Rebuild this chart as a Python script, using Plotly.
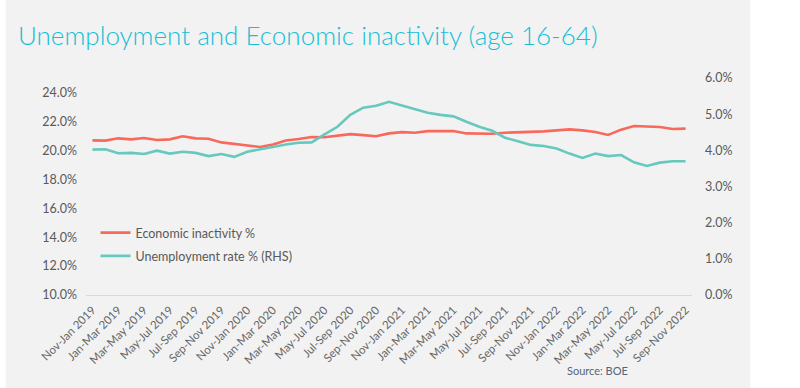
import plotly.graph_objects as go

months = ["Jan", "Feb", "Mar", "Apr", "May", "Jun", "Jul", "Aug", "Sep", "Oct", "Nov", "Dec"]
# rolling three-month periods, Nov-Jan 2019 ... Sep-Nov 2022
categories = []
yr = 2019
for k in range(47):
    start = (10 + k) % 12
    end = (start + 2) % 12
    if k > 0 and start == 10:
        yr += 1
    categories.append(f"{months[start]}-{months[end]} {yr}")

inactivity = [20.69, 20.67, 20.83, 20.76, 20.85, 20.71, 20.76, 20.97, 20.83, 20.80,
              20.55, 20.46, 20.37, 20.23, 20.41, 20.68, 20.78, 20.92, 20.90, 21.01,
              21.12, 21.05, 20.97, 21.17, 21.26, 21.22, 21.33, 21.33, 21.33, 21.17,
              21.15, 21.15, 21.22, 21.24, 21.31, 21.31, 21.38, 21.45, 21.38, 21.27,
              21.06, 21.43, 21.68, 21.63, 21.61, 21.47, 21.50]
unemployment = [4.02, 4.03, 3.92, 3.93, 3.90, 3.99, 3.91, 3.96, 3.93, 3.84,
                3.90, 3.82, 3.96, 4.03, 4.10, 4.16, 4.21, 4.22, 4.44, 4.65,
                4.98, 5.18, 5.23, 5.34, 5.24, 5.15, 5.04, 4.98, 4.94, 4.79,
                4.65, 4.54, 4.35, 4.25, 4.15, 4.12, 4.05, 3.91, 3.79, 3.91,
                3.84, 3.87, 3.67, 3.57, 3.66, 3.70, 3.70]

tick_labels = categories[::2]

FONT = "Lato"
TXT = "#595959"
W, H = 800, 388
L, R, T, B = 85.5, 692.5, 78, 295
pw, ph = R - L, B - T

def px(x):
    return (x - L) / pw

def py(y):
    return (B - y) / ph

fig = go.Figure()
fig.add_trace(go.Scatter(x=categories, y=inactivity, name="Economic inactivity %",
                         mode="lines", line=dict(color="#f8695c", width=2.6),
                         legendgroup="a"))
fig.add_trace(go.Scatter(x=categories, y=unemployment, name="Unemployment rate % (RHS)",
                         mode="lines", line=dict(color="#67c8bd", width=2.6),
                         yaxis="y2", legendgroup="b"))

fig.add_shape(type="rect", xref="paper", yref="paper", layer="below",
              x0=px(5), x1=px(751), y0=py(388), y1=py(0),
              fillcolor="#f2f2f2", line=dict(width=0))

fig.add_annotation(text="Unemployment and Economic inactivity (age 16-64)",
                   xref="paper", yref="paper", x=px(15), y=py(35),
                   xanchor="left", yanchor="middle", showarrow=False,
                   font=dict(family=FONT, size=26, color="#14bfd8", weight=300))
fig.add_annotation(text="Source: BOE", xref="paper", yref="paper",
                   x=px(598), y=py(370), xanchor="center", yanchor="middle",
                   showarrow=False, font=dict(family=FONT, size=11, color="#536577"))

fig.update_layout(
    width=W, height=H,
    margin=dict(l=L, r=W - R, t=T, b=H - B, pad=0, autoexpand=False),
    paper_bgcolor="white", plot_bgcolor="rgba(0,0,0,0)",
    font=dict(family=FONT, size=12, color=TXT),
    showlegend=True,
    legend=dict(x=px(95), y=py(218), xanchor="left", yanchor="top",
                bgcolor="rgba(0,0,0,0)", font=dict(family=FONT, size=12.5, color=TXT),
                itemwidth=30, traceorder="grouped", tracegroupgap=4),
    xaxis=dict(type="category", range=[-0.5, 46.5], tickmode="array",
               tickvals=tick_labels, ticktext=tick_labels, tickangle=-45,
               showgrid=False, zeroline=False, showline=True, linecolor="#d9d9d9",
               linewidth=1, ticks="", automargin=False, ticklabelstandoff=3,
               tickfont=dict(family=FONT, size=11.5, color="#666666")),
    yaxis=dict(range=[10, 25], tick0=10, dtick=2, tickformat=".1f", ticksuffix="%",
               showgrid=False, zeroline=False, showline=False, ticks="",
               automargin=False, ticklabelstandoff=8,
               tickfont=dict(family=FONT, size=12.5, color=TXT)),
    yaxis2=dict(range=[0, 6], tick0=0, dtick=1, tickformat=".1f", ticksuffix="%",
                overlaying="y", side="right", showgrid=False, zeroline=False,
                showline=False, ticks="", automargin=False, ticklabelstandoff=12,
                tickfont=dict(family=FONT, size=12.5, color=TXT)),
)

fig.write_html("out.html", config={"displayModeBar": False},
               post_script="document.body.style.margin='0';document.body.style.overflow='hidden';")
